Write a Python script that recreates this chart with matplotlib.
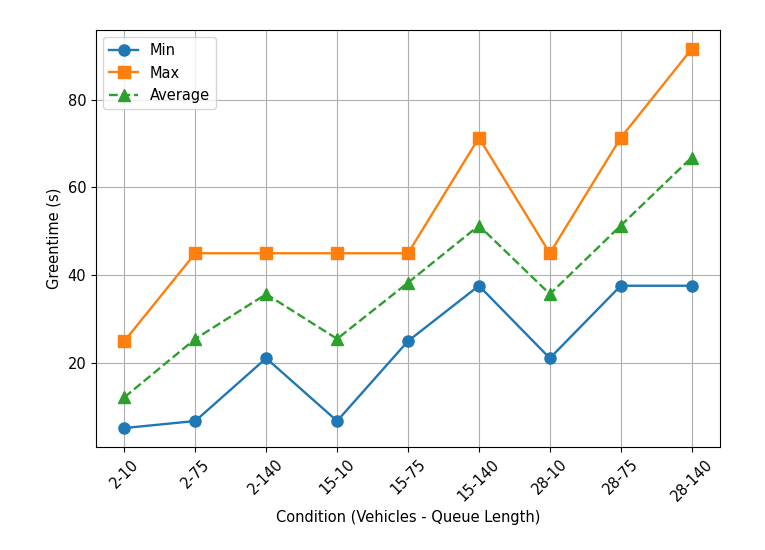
import matplotlib
matplotlib.use("Agg")
import matplotlib.pyplot as plt

# Data
conditions = ['2-10', '2-75', '2-140', '15-10', '15-75', '15-140', '28-10', '28-75', '28-140']
min_green = [5.2, 6.8, 21.1, 6.8, 25.0, 37.6, 21.1, 37.6, 37.6]
max_green = [25.0, 45.0, 45.0, 45.0, 45.0, 71.3, 45.0, 71.3, 91.5]
avg_green = [12.2, 25.5, 35.7, 25.5, 38.3, 51.3, 35.7, 51.3, 66.8]

plt.rcParams['font.size'] = 10.5

fig = plt.figure(figsize=(7.65, 5.5), dpi=100)
ax = fig.add_axes([0.1255, 0.1873, 0.8157, 0.758])

ax.plot(conditions, min_green, marker='o', markersize=8, linewidth=1.7, label='Min')
ax.plot(conditions, max_green, marker='s', markersize=8, linewidth=1.7, label='Max')
ax.plot(conditions, avg_green, marker='^', markersize=8, linewidth=1.7, linestyle='--', label='Average')

ax.set_xlabel('Condition (Vehicles - Queue Length)')
ax.set_ylabel('Greentime (s)')
ax.tick_params(axis='x', rotation=45)
ax.grid(True)
ax.legend(loc='upper left')

fig.savefig('out.png', dpi=100)
